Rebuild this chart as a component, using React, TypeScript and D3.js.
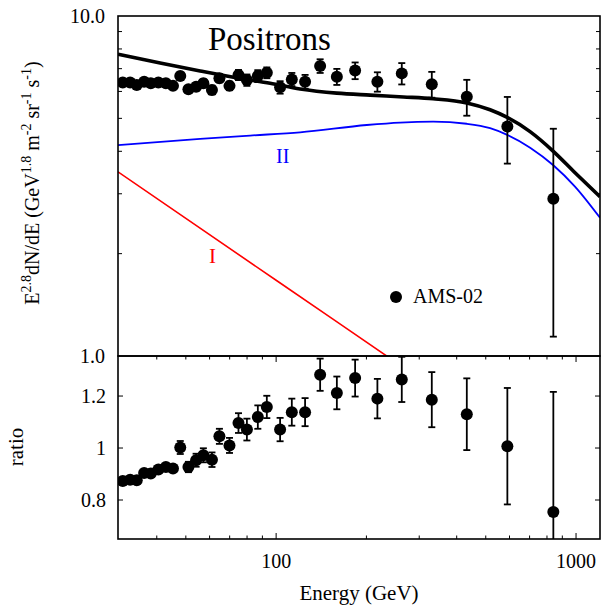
import React from 'react';
import * as d3 from 'd3';

// AMS-02 positron data (E in GeV)
const energy = [30.8, 32.6, 34.3, 36.3, 38.2, 40.5, 42.9, 45.3, 47.9, 51.0, 54.1, 57.2, 61.1, 64.7, 69.9, 74.9, 79.9, 86.9, 93.1, 103.1, 112.8, 124.9, 140.2, 159.4, 183.4, 217.6, 262.4, 330.4, 432.3, 590.2, 840.1];
const flux = [6.37, 6.37, 6.27, 6.41, 6.34, 6.37, 6.34, 6.23, 6.66, 6.09, 6.19, 6.34, 6.06, 6.56, 6.23, 6.71, 6.48, 6.66, 6.81, 6.17, 6.51, 6.41, 7.13, 6.63, 6.91, 6.41, 6.78, 6.30, 5.79, 4.73, 2.90];
const fluxErr = [0.09, 0.09, 0.09, 0.09, 0.09, 0.09, 0.09, 0.09, 0.16, 0.13, 0.16, 0.17, 0.18, 0.18, 0.18, 0.23, 0.25, 0.27, 0.25, 0.26, 0.29, 0.30, 0.33, 0.36, 0.39, 0.42, 0.49, 0.55, 0.70, 1.05, 1.76];
const ratio = [0.873, 0.878, 0.876, 0.904, 0.902, 0.917, 0.927, 0.921, 1.002, 0.927, 0.953, 0.972, 0.955, 1.045, 1.010, 1.096, 1.071, 1.119, 1.158, 1.071, 1.138, 1.138, 1.282, 1.212, 1.269, 1.190, 1.264, 1.186, 1.130, 1.007, 0.754];
const ratioErr = [0.012, 0.012, 0.012, 0.012, 0.012, 0.012, 0.012, 0.012, 0.025, 0.02, 0.025, 0.027, 0.028, 0.029, 0.029, 0.038, 0.042, 0.045, 0.043, 0.045, 0.052, 0.054, 0.062, 0.063, 0.071, 0.076, 0.087, 0.106, 0.138, 0.224, 0.462];

// Model curves
const totalE = [29.7, 41.05, 55.8, 75.9, 95.5, 120.2, 159.3, 205.8, 265.7, 333.7, 432.3, 516.9, 587.5, 702.6, 840, 992.4, 1202];
const totalV = [7.72, 7.27, 6.89, 6.55, 6.34, 6.10, 5.93, 5.85, 5.78, 5.71, 5.55, 5.30, 5.04, 4.57, 4.00, 3.46, 2.94];
const compIIE = [29.7, 55.8, 81.9, 120.2, 200.5, 259, 334, 432, 517, 587, 703, 840, 992, 1202];
const compIIV = [4.17, 4.35, 4.45, 4.55, 4.78, 4.86, 4.89, 4.82, 4.68, 4.48, 4.10, 3.64, 3.15, 2.55];
const compIE = [29.7, 100, 300, 1202];
const compIV = [3.48, 1.67, 0.86, 0.37];

const xMajor = [100, 1000];
const xMajorLabels = ['100', '1000'];
const xMinor = [40, 50, 60, 70, 80, 90, 200, 300, 400, 500, 600, 700, 800, 900];
const yTopMinor = [2, 3, 4, 5, 6, 7, 8, 9];
const yTopLabelVals = [10, 1];
const yTopLabels = ['10.0', '1.0'];
const yBotTicks = [1.2, 1, 0.8];
const yBotLabels = ['1.2', '1', '0.8'];

const L = 118, R = 600, T = 16, M = 356, B = 539;
const FONT = 'Liberation Serif, Times New Roman, DejaVu Serif, serif';

export default function App() {
  const x = d3.scaleLog().domain([29.7, 1202]).range([L, R]);
  const yTop = d3.scaleLog().domain([1, 10]).range([M, T]);
  const yBot = d3.scaleLinear().domain([0.65, 1.354]).range([B, M]);

  const lineTop = (es: number[], vs: number[]) =>
    d3.line<number>().x((_, i) => x(es[i])).y((_, i) => yTop(vs[i])).curve(d3.curveMonotoneX)(vs) || '';

  const cap = 3.5;
  const r = 6;

  return (
    <div style={{ position: 'absolute', left: 0, top: 0 }}>
      <svg width={610} height={605} style={{ display: 'block' }}>
        <defs>
          <clipPath id="clipTop"><rect x={L} y={T} width={R - L} height={M - T} /></clipPath>
          <clipPath id="clipBot"><rect x={L} y={M} width={R - L} height={B - M} /></clipPath>
        </defs>
        <rect width={610} height={605} fill="#fff" />

        {/* Top panel curves */}
        <g clipPath="url(#clipTop)" fill="none">
          <path d={lineTop(compIE, compIV)} stroke="#ff0000" strokeWidth={1.6} />
          <path d={lineTop(compIIE, compIIV)} stroke="#0000ff" strokeWidth={1.8} />
          <path d={lineTop(totalE, totalV)} stroke="#000" strokeWidth={3.6} />
        </g>

        {/* Top panel data */}
        <g clipPath="url(#clipTop)">
          {energy.map((e, i) => {
            const cx = x(e);
            const y1 = yTop(flux[i] + fluxErr[i]);
            const y2 = yTop(Math.max(flux[i] - fluxErr[i], 0.5));
            return (
              <g key={i}>
                <line x1={cx} x2={cx} y1={y1} y2={y2} stroke="#000" strokeWidth={1.8} />
                <line x1={cx - cap} x2={cx + cap} y1={y1} y2={y1} stroke="#000" strokeWidth={1.8} />
                <line x1={cx - cap} x2={cx + cap} y1={y2} y2={y2} stroke="#000" strokeWidth={1.8} />
                <circle cx={cx} cy={yTop(flux[i])} r={r} fill="#000" />
              </g>
            );
          })}
        </g>

        {/* Bottom panel data */}
        <g clipPath="url(#clipBot)">
          {energy.map((e, i) => {
            const cx = x(e);
            const y1 = yBot(ratio[i] + ratioErr[i]);
            const y2 = yBot(ratio[i] - ratioErr[i]);
            return (
              <g key={i}>
                <line x1={cx} x2={cx} y1={y1} y2={y2} stroke="#000" strokeWidth={1.8} />
                <line x1={cx - cap} x2={cx + cap} y1={y1} y2={y1} stroke="#000" strokeWidth={1.8} />
                <line x1={cx - cap} x2={cx + cap} y1={y2} y2={y2} stroke="#000" strokeWidth={1.8} />
                <circle cx={cx} cy={yBot(ratio[i])} r={r} fill="#000" />
              </g>
            );
          })}
        </g>

        {/* Frames */}
        <rect x={L} y={T} width={R - L} height={M - T} fill="none" stroke="#000" strokeWidth={1.6} />
        <rect x={L} y={M} width={R - L} height={B - M} fill="none" stroke="#000" strokeWidth={1.6} />

        {/* Top panel y ticks */}
        {yTopMinor.map((v) => (
          <g key={'ytm' + v} stroke="#000" strokeWidth={1}>
            <line x1={L} x2={L + 4} y1={yTop(v)} y2={yTop(v)} />
            <line x1={R} x2={R - 4} y1={yTop(v)} y2={yTop(v)} />
          </g>
        ))}

        {/* Bottom panel y ticks */}
        {yBotTicks.map((v) => (
          <g key={'ybt' + v} stroke="#000" strokeWidth={1}>
            <line x1={L} x2={L + 5} y1={yBot(v)} y2={yBot(v)} />
            <line x1={R} x2={R - 5} y1={yBot(v)} y2={yBot(v)} />
          </g>
        ))}

        {/* X ticks on bottom panel */}
        {xMinor.map((v) => (
          <g key={'xm' + v} stroke="#000" strokeWidth={1}>
            <line x1={x(v)} x2={x(v)} y1={B} y2={B - 3.5} />
            <line x1={x(v)} x2={x(v)} y1={M} y2={M + 3.5} />
          </g>
        ))}
        {xMajor.map((v) => (
          <g key={'xM' + v} stroke="#000" strokeWidth={1}>
            <line x1={x(v)} x2={x(v)} y1={B} y2={B - 6} />
            <line x1={x(v)} x2={x(v)} y1={M} y2={M + 6} />
          </g>
        ))}

        <g fontFamily={FONT} fill="#000">
          {yTopLabelVals.map((v, i) => (
            <text key={'ytl' + v} x={105} y={yTop(v) + 7} textAnchor="end" fontSize={20} fontFamily={FONT}>{yTopLabels[i]}</text>
          ))}
          {yBotTicks.map((v, i) => (
            <text key={'ybl' + v} x={106} y={yBot(v) + 7} textAnchor="end" fontSize={20} fontFamily={FONT}>{yBotLabels[i]}</text>
          ))}
          {xMajor.map((v, i) => (
            <text key={'xl' + v} x={x(v)} y={568} textAnchor="middle" fontSize={20} fontFamily={FONT}>{xMajorLabels[i]}</text>
          ))}

          {/* Axis titles */}
          <text x={359} y={600} textAnchor="middle" fontSize={21} fontFamily={FONT}>Energy (GeV)</text>
          <text transform="translate(23,447) rotate(-90)" textAnchor="middle" fontSize={21} fontFamily={FONT}>ratio</text>
          <text transform="translate(39,183) rotate(-90)" textAnchor="middle" fontSize={20} fontFamily={FONT}>
            <tspan>E</tspan>
            <tspan dy={-8} fontSize={14}>2.8</tspan>
            <tspan dy={8}>dN/dE (GeV</tspan>
            <tspan dy={-8} fontSize={14}>1.8</tspan>
            <tspan dy={8}> m</tspan>
            <tspan dy={-8} fontSize={14}>-2</tspan>
            <tspan dy={8}> sr</tspan>
            <tspan dy={-8} fontSize={14}>-1</tspan>
            <tspan dy={8}> s</tspan>
            <tspan dy={-8} fontSize={14}>-1</tspan>
            <tspan dy={8}>)</tspan>
          </text>

          {/* Annotations */}
          <text x={208} y={50} fontSize={33} fontFamily={FONT}>Positrons</text>
          <text x={276} y={163} fontSize={20} fill="#0000ff" fontFamily={FONT}>II</text>
          <text x={209} y={263} fontSize={21} fill="#ff0000" fontFamily={FONT}>I</text>
          <circle cx={396} cy={297} r={6} fill="#000" />
          <text x={413} y={303} fontSize={20} fontFamily={FONT}>AMS-02</text>
        </g>
      </svg>
    </div>
  );
}
